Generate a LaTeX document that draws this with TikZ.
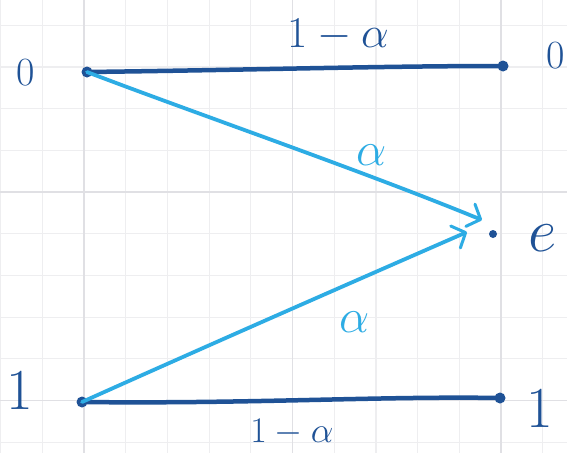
\RequirePackage{fix-cm}
\documentclass[tikz,border=0pt]{standalone}
\usetikzlibrary{arrows.meta}
\definecolor{darkblue}{RGB}{31,82,150}
\definecolor{lightblue}{RGB}{45,172,228}
\definecolor{gridlight}{RGB}{238,238,240}
\definecolor{gridheavy}{RGB}{224,224,228}
\tikzset{
  dotnode/.style={circle,fill=darkblue,inner sep=0pt,minimum size=11pt},
  smalldot/.style={circle,fill=darkblue,inner sep=0pt,minimum size=8pt},
  mainline/.style={draw=darkblue,line width=4.5pt,line cap=round},
  eraseline/.style={draw=lightblue,line width=3.8pt,line cap=round,
    -{Straight Barb[length=11pt,width=24pt,line width=3pt,round]}},
  lbl/.style={text=darkblue,inner sep=0pt},
  gline/.style={draw=gridlight,line width=1.2pt},
  gheavy/.style={draw=gridheavy,line width=1.6pt}
}
\begin{document}
\begin{tikzpicture}[x=1pt,y=-1pt]
\useasboundingbox (0,0) rectangle (567,453);
\fill[white] (0,0) rectangle (567,453);
% grid
\foreach \k in {0,...,13} {\draw[gline] (0.6+41.7*\k,0) -- (0.6+41.7*\k,453);}
\foreach \k in {0,...,10} {\draw[gline] (0,25.2+41.7*\k) -- (567,25.2+41.7*\k);}
\foreach \k in {2,7,12} {\draw[gheavy] (0.6+41.7*\k,0) -- (0.6+41.7*\k,453);}
\foreach \k in {4,9} {\draw[gheavy] (0,25.2+41.7*\k) -- (567,25.2+41.7*\k);}
% nodes
\node[dotnode] (a0) at (87,72) {};
\node[dotnode] (a1) at (82,402) {};
\node[dotnode] (b0) at (503,66) {};
\node[dotnode] (b1) at (500,398) {};
\node[smalldot] (e) at (493,234) {};
\coordinate (eu) at (482,220);
\coordinate (el) at (467,232);
% labels
\node[lbl,font=\fontsize{40}{40}\selectfont] (x0) at (26,73) {0};
\node[lbl,font=\fontsize{58}{58}\selectfont] (x1) at (20,390) {1};
\node[lbl,font=\fontsize{40}{40}\selectfont] (y0) at (556,56) {0};
\node[lbl,font=\fontsize{58}{58}\selectfont] (y1) at (540,408) {1};
\node[lbl,font=\fontsize{62}{62}\selectfont] (ye) at (543,238) {$e$};
\node[lbl,font=\fontsize{44}{44}\selectfont] (t0) at (338,35) {$1-\alpha$};
\node[lbl,font=\fontsize{36}{36}\selectfont] (t1) at (292,432) {$1-\alpha$};
\node[lbl,text=lightblue,font=\fontsize{48}{48}\selectfont] (u) at (372,155) {$\alpha$};
\node[lbl,text=lightblue,font=\fontsize{48}{48}\selectfont] (l) at (355,322) {$\alpha$};
% connectors
\draw[mainline] (a0.center) .. controls (250,70) and (380,66) .. (b0.center);
\draw[mainline] (a1.center) .. controls (250,404) and (380,396) .. (b1.center);
\draw[eraseline] (a0.center) .. controls (200,115) and (360,170) .. (eu);
\draw[eraseline] (a1.center) .. controls (220,340) and (380,270) .. (el);
\end{tikzpicture}
\end{document}
